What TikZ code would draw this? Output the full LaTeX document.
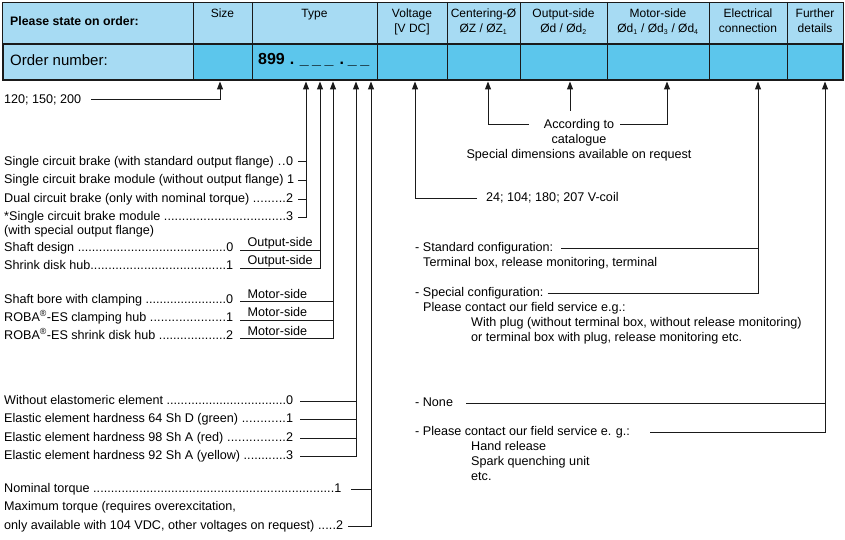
\documentclass[tikz,border=0pt]{standalone}
\usepackage{fontspec}
\setmainfont{Liberation Sans}
\usetikzlibrary{arrows.meta}
\definecolor{hdrblue}{HTML}{A7DBF3}
\definecolor{cellblue}{HTML}{5CC6EC}
\definecolor{ink}{HTML}{1A1A1A}
\newcommand{\dotrow}[3]{\makebox[#1][l]{#2\xleaders\hbox{.}\hfill#3}}
\newcommand{\sub}[1]{\textsubscript{\fontsize{7}{8}\selectfont #1}}
\begin{document}
\begin{tikzpicture}[x=1pt,y=-1pt,
  font=\fontsize{12.6}{14}\selectfont,
  lbl/.style={inner sep=0pt, text height=9pt, text depth=2.5pt, anchor=west},
  ctr/.style={inner sep=0pt, text height=9pt, text depth=2.5pt, anchor=center},
  hdr/.style={ctr, font=\fontsize{12}{14}\selectfont},
  tag/.style={inner sep=0pt, anchor=base west},
  ln/.style={draw=ink, line width=1pt},
  arr/.style={ln, -{Triangle[length=8pt,width=6pt]}},
  grid/.style={draw=ink, line width=0.8pt}]
\useasboundingbox (0,0) rectangle (845,540);
\fill[white] (0,0) rectangle (845,540);

% ---------- table ----------
\fill[hdrblue] (2,2) rectangle (843,44);
\fill[hdrblue] (3,44) rectangle (193,80);
\fill[cellblue] (193,44) rectangle (843,80);
\draw[grid] (2,2) rectangle (843,44);
\foreach \x in {193,252,377,447,520,607,709,787} \draw[grid] (\x,2) -- (\x,80);
\draw[draw=ink, line width=2.5pt] (3,44) rectangle (843,80);

\node[lbl, font=\fontsize{12.3}{14}\selectfont\bfseries] (pso) at (10,22) {Please state on order:};
\node[hdr] (hSize) at (222.5,14) {Size};
\node[hdr] (hType) at (314.5,14) {Type};
\node[hdr] (hVolt1) at (412,14) {Voltage};
\node[hdr] (hVolt2) at (412,29) {[V DC]};
\node[hdr] (hCen1) at (483.5,14) {Centering-Ø};
\node[hdr] (hCen2) at (483.5,29) {ØZ / ØZ\sub{1}};
\node[hdr] (hOut1) at (563.5,14) {Output-side};
\node[hdr] (hOut2) at (563.5,29) {Ød / Ød\sub{2}};
\node[hdr] (hMot1) at (658,14) {Motor-side};
\node[hdr] (hMot2) at (658,29) {Ød\sub{1} / Ød\sub{3} / Ød\sub{4}};
\node[hdr] (hEl1) at (748,14) {Electrical};
\node[hdr] (hEl2) at (748,29) {connection};
\node[hdr] (hFu1) at (815,14) {Further};
\node[hdr] (hFu2) at (815,29) {details};

\node[lbl, font=\fontsize{15}{17}\selectfont] (ordn) at (10,62) {Order number:};
\node[lbl, font=\fontsize{16}{18}\selectfont\bfseries] (code) at (258,61)
  {899\kern5pt.\kern5.5pt\_\kern3.5pt\_\kern3.5pt\_\kern6pt.\kern4pt\_\kern3.5pt\_};

% ---------- arrow targets on the table ----------
\foreach \n/\x in {tSize/220,tT1/306,tT2/320,tT3/333,tT4/356,tT5/371,tVolt/415,tCen/488,tOut/570,tMot/667,tEl/758,tFu/825}
  \coordinate (\n) at (\x,81.5);

% ---------- size ----------
\node[lbl] (sz) at (4,100) {120; 150; 200};
\draw[arr] ([xshift=10pt]sz.east) -| (tSize);

% ---------- type: brake ----------
\node[lbl] (b0) at (4,162) {\dotrow{289pt}{Single circuit brake (with standard output flange) }{0}};
\node[lbl] (b1) at (4,180.5) {Single circuit brake module (without output flange) 1};
\node[lbl] (b2) at (4,199) {\dotrow{289pt}{Dual circuit brake (only with nominal torque) }{2}};
\node[lbl] (b3) at (4,217.5) {\dotrow{289pt}{*Single circuit brake module }{3}};
\node[lbl] (b3b) at (4,231) {(with special output flange)};
\foreach \n in {b0,b1,b2} \draw[ln] ([xshift=5pt]b0.east |- \n.east) -- (\n.east -| tT1);
\draw[arr] ([xshift=5pt]b3.east) -| (tT1);

% ---------- type: output side ----------
\node[lbl] (sd) at (4,248) {\dotrow{229pt}{Shaft design }{0}};
\node[lbl] (sh) at (4,266) {\dotrow{229pt}{Shrink disk hub}{1}};
\coordinate (osA) at ([xshift=7pt,yshift=-2pt]sd.east);
\coordinate (osB) at ([xshift=7pt,yshift=-2pt]sh.east);
\node[tag] (osl1) at ([xshift=7pt,yshift=3.5pt]osA) {Output-side};
\node[tag] (osl2) at ([xshift=7pt,yshift=3.5pt]osB) {Output-side};
\draw[ln] (osA) -- (osA -| tT2);
\draw[arr] (osB) -| (tT2);

% ---------- type: motor side ----------
\node[lbl] (mb0) at (4,300) {\dotrow{229pt}{Shaft bore with clamping }{0}};
\node[lbl] (mb1) at (4,318) {\dotrow{229pt}{ROBA\textsuperscript{®}-ES clamping hub }{1}};
\node[lbl] (mb2) at (4,336) {\dotrow{229pt}{ROBA\textsuperscript{®}-ES shrink disk hub }{2}};
\coordinate (msA) at ([xshift=7pt,yshift=-1.5pt]mb0.east);
\coordinate (msB) at ([xshift=7pt,yshift=-2pt]mb1.east);
\coordinate (msC) at ([xshift=7pt,yshift=-2.5pt]mb2.east);
\node[tag] (msl1) at ([xshift=7pt,yshift=3.5pt]msA) {Motor-side};
\node[tag] (msl2) at ([xshift=7pt,yshift=3.5pt]msB) {Motor-side};
\node[tag] (msl3) at ([xshift=7pt,yshift=3.5pt]msC) {Motor-side};
\draw[ln] (msA) -- (msA -| tT3);
\draw[ln] (msB) -- (msB -| tT3);
\draw[arr] (msC) -| (tT3);

% ---------- type: elastomer ----------
\node[lbl] (e0) at (4,401) {\dotrow{289pt}{Without elastomeric element }{0}};
\node[lbl] (e1) at (4,419.5) {\dotrow{289pt}{Elastic element hardness 64 Sh D (green) }{1}};
\node[lbl] (e2) at (4,438) {\dotrow{289pt}{Elastic element hardness 98 Sh A (red) }{2}};
\node[lbl] (e3) at (4,456.5) {\dotrow{289pt}{Elastic element hardness 92 Sh A (yellow) }{3}};
\foreach \n in {e0,e1,e2} \draw[ln] ([xshift=7pt]\n.east) -- (\n.east -| tT4);
\draw[arr] ([xshift=7pt]e3.east) -| (tT4);

% ---------- type: torque ----------
\node[lbl] (tq1) at (4,489) {\dotrow{337pt}{Nominal torque }{1}};
\node[lbl] (tq2a) at (4,507.5) {Maximum torque (requires overexcitation,};
\node[lbl] (tq2) at (4,526.5) {\dotrow{339pt}{only available with 104 VDC, other voltages on request) }{2}};
\draw[ln] ([xshift=10pt]tq1.east) -- (tq1.east -| tT5);
\draw[arr] ([xshift=5pt]tq2.east) -| (tT5);

% ---------- voltage ----------
\node[lbl] (vc) at (486,198) {24; 104; 180; 207 V-coil};
\draw[arr] ([xshift=-9pt]vc.west) -| (tVolt);

% ---------- centering / output / motor ----------
\node[ctr] (acc1) at (579,125) {According to};
\node[ctr] (acc2) at (579,140) {catalogue};
\node[ctr] (acc3) at (579,155) {Special dimensions available on request};
\draw[arr] ([xshift=-15pt]acc1.west) -| (tCen);
\draw[arr] ([xshift=6pt]acc1.east) -| (tMot);
\coordinate (outEnd) at (570,111);
\draw[arr] (outEnd) -- (tOut);

% ---------- electrical connection ----------
\node[lbl] (sc) at (415,248) {- Standard configuration:};
\node[lbl] (sc2) at (423,263) {Terminal box, release monitoring, terminal};
\node[lbl] (spc) at (415,293) {- Special configuration:};
\node[lbl] (spc2) at (423,308) {Please contact our field service e.g.:};
\node[lbl] (spc3) at (471,323) {With plug (without terminal box, without release monitoring)};
\node[lbl] (spc4) at (471,338) {or terminal box with plug, release monitoring etc.};
\draw[ln] ([xshift=8pt]sc.east) -- (sc.east -| tEl);
\draw[arr] ([xshift=4pt]spc.east) -| (tEl);

% ---------- further details ----------
\node[lbl] (none) at (415,403) {- None};
\node[lbl] (pc) at (415,432) {- Please contact our field service e. g.:};
\node[lbl] (hr) at (471,447) {Hand release};
\node[lbl] (sq) at (471,462) {Spark quenching unit};
\node[lbl] (etc) at (471,477) {etc.};
\draw[ln] ([xshift=13pt]none.east) -- (none.east -| tFu);
\draw[arr] ([xshift=20pt]pc.east) -| (tFu);
\end{tikzpicture}
\end{document}
